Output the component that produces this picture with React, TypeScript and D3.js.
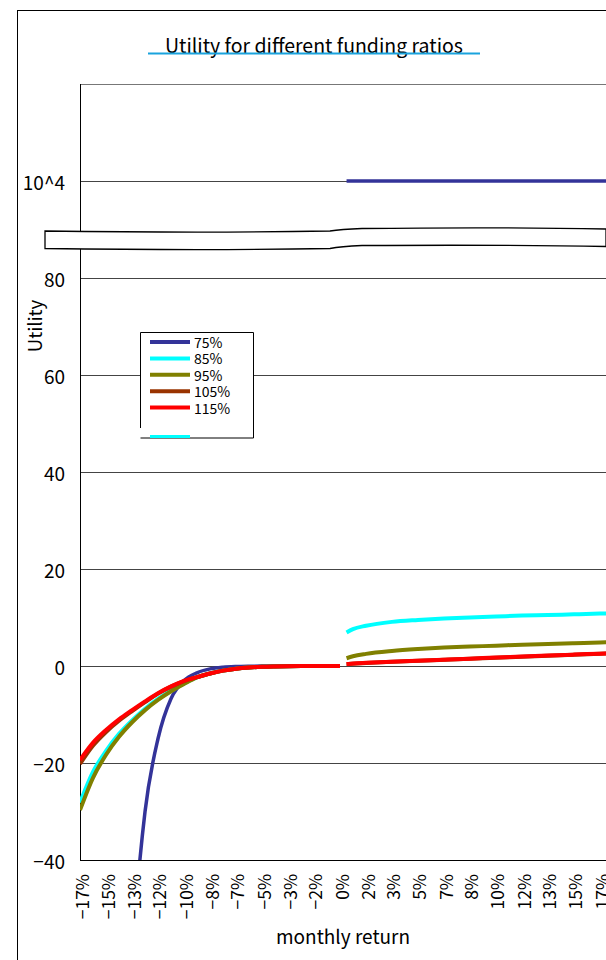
import React from 'react';
import * as d3 from 'd3';

// monthly return in %, negative side (ends at 0) and positive side
const leftReturns = [-16.67, -15.83, -15, -14.17, -13.33, -12.5, -11.67, -10.83, -10, -9.17, -8.33, -7.5, -6.67, -5.83, -5, -4.17, -3.33, -2.5, -1.67, -0.83, 0];
const rightReturns = [0.42, 0.83, 1.67, 3.33, 5, 6.67, 8.33, 10, 11.67, 13.33, 15, 16.67, 17.5];

const seriesNames = ['75%', '85%', '95%', '105%', '115%'];
const seriesColors = ['#333399', '#00ffff', '#808000', '#993300', '#ff0000'];

const left75 = [-1000, -480, -230, -110, -60, -30, -15, -6.7, -3.0, -1.4, -0.6, -0.25, -0.1, -0.04, -0.02, -0.01, 0, 0, 0, 0, 0];
const left85 = [-28.2, -21.8, -17.5, -14.0, -11.2, -8.8, -6.8, -5.1, -3.6, -2.35, -1.55, -0.95, -0.55, -0.3, -0.15, -0.08, -0.04, -0.02, -0.01, 0, 0];
const left95 = [-29.7, -23.0, -18.3, -14.6, -11.6, -9.1, -7.0, -5.2, -3.7, -2.35, -1.55, -0.95, -0.55, -0.3, -0.15, -0.08, -0.04, -0.02, -0.01, 0, 0];
const left105 = [-20.2, -16.4, -13.6, -11.3, -9.3, -7.45, -5.7, -4.25, -3.1, -2.3, -1.55, -0.95, -0.55, -0.3, -0.15, -0.08, -0.04, -0.02, -0.01, 0, 0];
const left115 = [-19.4, -15.8, -13.2, -11.0, -9.1, -7.3, -5.6, -4.2, -3.05, -2.3, -1.55, -0.95, -0.55, -0.3, -0.15, -0.08, -0.04, -0.02, -0.01, 0, 0];

// 75% is off the scale on the positive side (10^4), drawn at the break level
const right75 = [100, 100, 100, 100, 100, 100, 100, 100, 100, 100, 100, 100, 100];
const right85 = [6.9, 7.6, 8.3, 9.1, 9.5, 9.8, 10.0, 10.2, 10.4, 10.5, 10.65, 10.8, 10.9];
const right95 = [1.6, 2.0, 2.5, 3.1, 3.5, 3.8, 4.0, 4.2, 4.4, 4.55, 4.7, 4.85, 4.9];
const right105 = [0.38, 0.48, 0.62, 0.87, 1.08, 1.28, 1.48, 1.72, 1.92, 2.12, 2.32, 2.52, 2.62];
const right115 = [0.4, 0.5, 0.65, 0.9, 1.1, 1.3, 1.5, 1.75, 1.95, 2.15, 2.35, 2.55, 2.65];

const xTickValues = [-16.67, -15, -13.33, -11.67, -10, -8.33, -6.67, -5, -3.33, -1.67, 0, 1.67, 3.33, 5, 6.67, 8.33, 10, 11.67, 13.33, 15, 16.67];
const xTickLabels = ['−17%', '−15%', '−13%', '−12%', '−10%', '−8%', '−7%', '−5%', '−3%', '−2%', '0%', '2%', '3%', '5%', '7%', '8%', '10%', '12%', '13%', '15%', '17%'];
const yTickValues = [-40, -20, 0, 20, 40, 60, 80, 100];
const yTickLabels = ['−40', '−20', '0', '20', '40', '60', '80', '10^4'];

const FONT = '"Noto Sans CJK JP", "Noto Sans", sans-serif';

export default function App() {
  const left = 80;
  const top = 84;
  const bottom = 860;
  const right = 700;

  const x = d3.scaleLinear().domain([-16.67, 16.67]).range([80, 600]);
  const y = d3.scaleLinear().domain([-40, 120]).range([bottom, top]);

  const line = d3
    .line<[number, number]>()
    .x(d => x(d[0]))
    .y(d => y(d[1]))
    .curve(d3.curveMonotoneX);

  const leftData = [left75, left85, left95, left105, left115];
  const rightData = [right75, right85, right95, right105, right115];

  const legendY = d3.scalePoint<number>().domain([0, 1, 2, 3, 4, 5]).range([342, 424]);

  return (
    <div style={{ position: 'fixed', left: 0, top: 0 }}>
      <svg width={606} height={960} style={{ display: 'block', background: '#fff' }} fontFamily={FONT}>
        <defs>
          <clipPath id="plot">
            <rect x={left} y={top} width={right - left} height={bottom - top} />
          </clipPath>
          <clipPath id="legend">
            <rect x={141} y={333} width={112} height={105} />
          </clipPath>
        </defs>

        <rect x={17.5} y={10.5} width={700} height={1000} fill="#fff" stroke="#000" />

        <text x={314} y={53} textAnchor="middle" fontSize={19.5}>
          Utility for different funding ratios
        </text>
        <line x1={148} x2={480} y1={53.5} y2={53.5} stroke="#1aa3dd" strokeWidth={2} />

        {/* gridlines */}
        <line x1={left} x2={right} y1={top + 0.5} y2={top + 0.5} stroke="#777" />
        {yTickValues.slice(1).map(v => (
          <line key={v} x1={left} x2={right} y1={Math.round(y(v)) + 0.5} y2={Math.round(y(v)) + 0.5} stroke="#444" />
        ))}
        <line x1={left} x2={right} y1={bottom + 0.5} y2={bottom + 0.5} stroke="#000" />
        <line x1={left + 0.5} x2={left + 0.5} y1={top} y2={bottom} stroke="#000" />

        {yTickValues.map((v, i) => (
          <text key={v} x={65} y={y(v)} textAnchor="end" dominantBaseline="central" fontSize={19}>
            {yTickLabels[i]}
          </text>
        ))}

        {xTickValues.map((v, i) => (
          <text
            key={v}
            transform={`translate(${x(v) + 1},874) rotate(-90)`}
            textAnchor="end"
            dominantBaseline="central"
            fontSize={17.5}
          >
            {xTickLabels[i]}
          </text>
        ))}

        <text transform="translate(34,326) rotate(-90)" textAnchor="middle" dominantBaseline="central" fontSize={18.5}>
          Utility
        </text>
        <text x={343} y={944} textAnchor="middle" fontSize={19}>
          monthly return
        </text>

        <g clipPath="url(#plot)">
          {seriesNames.map((name, i) => (
            <g key={name}>
              <path
                d={line(leftReturns.map((r, j) => [r, leftData[i][j]]))}
                fill="none"
                stroke={seriesColors[i]}
                strokeWidth={i === 0 ? 3.5 : 4}
              />
              <path
                d={line(rightReturns.map((r, j) => [r, rightData[i][j]]))}
                fill="none"
                stroke={seriesColors[i]}
                strokeWidth={i === 0 ? 3.5 : 4}
              />
            </g>
          ))}
        </g>

        {/* axis break */}
        <path
          d="M45,231 C150,232.5 250,232.5 330,231 C340,229.5 350,229 362,228.5 C450,227.5 530,227.5 606,229 L606,246.5 C530,245 450,245 362,245.5 C350,246 340,246.5 330,248.5 C250,250 150,250 45,248.5 Z"
          fill="#fff"
          stroke="#000"
          strokeWidth={1.3}
        />

        {/* legend */}
        <rect x={140.5} y={332.5} width={113} height={105.5} fill="#fff" />
        <path d="M140.5,428 V332.5 H253.5 V438 H140.5" fill="none" stroke="#000" />
        <g clipPath="url(#legend)">
          {seriesNames.concat(['']).map((name, i) => (
            <g key={i}>
              <line
                x1={150}
                x2={190}
                y1={i < 5 ? legendY(i) : 437}
                y2={i < 5 ? legendY(i) : 437}
                stroke={i < 5 ? seriesColors[i] : '#00ffff'}
                strokeWidth={4}
              />
              {name && (
                <text x={194} y={legendY(i)} dominantBaseline="central" fontSize={14}>
                  {name}
                </text>
              )}
            </g>
          ))}
        </g>
      </svg>
    </div>
  );
}
